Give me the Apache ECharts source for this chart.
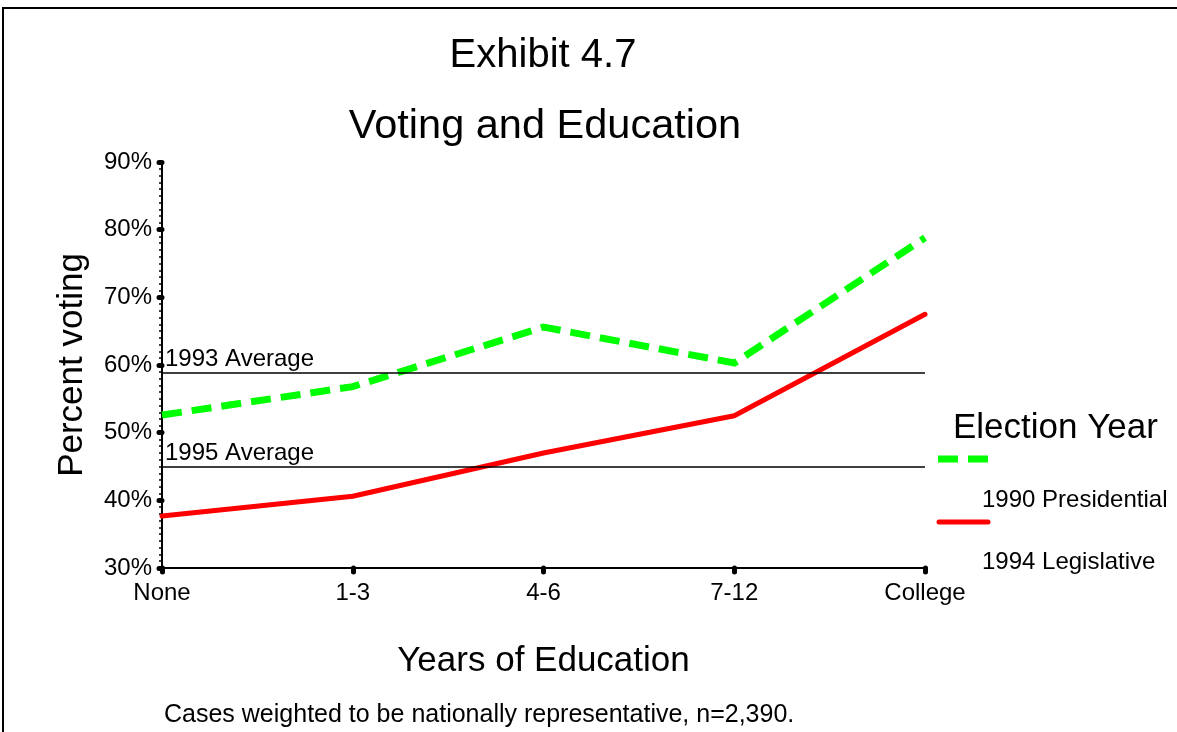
<!DOCTYPE html>
<html>
<head>
<meta charset="utf-8">
<title>Voting and Education</title>
<script src="https://cdn.jsdelivr.net/npm/echarts@6/dist/echarts.min.js"></script>
<style>
  html, body { margin: 0; padding: 0; background: #fff; }
  #chart { width: 1177px; height: 732px; }
</style>
</head>
<body>
<div id="chart"></div>
<script>
// Years of schooling groups on the x axis
const categories = ['None', '1-3', '4-6', '7-12', 'College'];

// Percent voting by education group
const presidential1990 = [52.6, 56.8, 65.6, 60.3, 78.8];
const legislative1994 = [37.7, 40.6, 47.0, 52.5, 67.5];

// Overall turnout reference lines
const averageNames = ['1993 Average', '1995 Average'];
const averageValues = [58.9, 45.0];

// Percent axis range
const yMin = 30;
const yMax = 90;
const yStep = 10;

const seriesNames = ['1990 Presidential', '1994 Legislative'];
const seriesColors = ['#00ff00', '#ff0000'];

const FONT = '"Liberation Sans", Arial, sans-serif';

const chart = echarts.init(document.getElementById('chart'), null, { renderer: 'canvas' });

const option = {
  animation: false,
  backgroundColor: '#ffffff',
  title: [
    {
      text: 'Exhibit 4.7',
      left: 538, top: 31, textAlign: 'center',
      textStyle: { fontFamily: FONT, fontSize: 40, fontWeight: 'normal', color: '#000' }
    },
    {
      text: 'Voting and Education',
      left: 540, top: 101, textAlign: 'center',
      textStyle: { fontFamily: FONT, fontSize: 41.5, fontWeight: 'normal', color: '#000' }
    }
  ],
  grid: { left: 162, right: 252, top: 162, bottom: 164, containLabel: false },
  xAxis: {
    type: 'category',
    data: categories,
    boundaryGap: false,
    name: 'Years of Education',
    nameLocation: 'middle',
    nameGap: 76,
    nameTextStyle: { fontFamily: FONT, fontSize: 35, color: '#000' },
    axisLine: { lineStyle: { color: '#000', width: 2 } },
    axisTick: { length: 4, lineStyle: { color: '#000', width: 5, cap: 'round' } },
    axisLabel: { fontFamily: FONT, fontSize: 24, color: '#000', margin: 13 },
    splitLine: { show: false }
  },
  yAxis: {
    type: 'value',
    min: yMin, max: yMax, interval: yStep,
    name: 'Percent voting',
    nameLocation: 'middle',
    nameGap: 72,
    nameTextStyle: { fontFamily: FONT, fontSize: 35, color: '#000' },
    axisLine: { show: true, lineStyle: { color: '#000', width: 2 } },
    axisTick: { show: true, length: 3, lineStyle: { color: '#000', width: 5, cap: 'round' } },
    minorTick: { show: true, splitNumber: 10, length: 3, lineStyle: { color: '#000', width: 1.5 } },
    axisLabel: { fontFamily: FONT, fontSize: 24, color: '#000', margin: 10, formatter: '{value}%' },
    splitLine: { show: false }
  },
  series: [
    {
      name: seriesNames[0],
      type: 'line',
      data: presidential1990,
      symbol: 'none',
      silent: true,
      z: 3,
      lineStyle: { color: seriesColors[0], width: 7, type: [20, 10], cap: 'butt', join: 'miter' }
    },
    {
      name: seriesNames[1],
      type: 'line',
      data: legislative1994,
      symbol: 'none',
      silent: true,
      z: 3,
      lineStyle: { color: seriesColors[1], width: 5, cap: 'round', join: 'round' }
    },
    {
      name: 'averages',
      type: 'line',
      data: [],
      silent: true,
      z: 2,
      markLine: {
        silent: true,
        symbol: ['none', 'none'],
        animation: false,
        lineStyle: { color: '#000', width: 1.5, type: 'solid' },
        label: {
          show: true,
          position: 'insideStartTop',
          formatter: '{b}',
          fontFamily: FONT,
          fontSize: 24,
          color: '#000',
          distance: [3, 1]
        },
        emphasis: { disabled: true },
        data: averageNames.map((n, i) => ({ name: n, yAxis: averageValues[i] }))
      }
    }
  ],
  graphic: [
    // outer frame
    {
      type: 'rect', silent: true,
      shape: { x: 3, y: 8, width: 1400, height: 1000 },
      style: { fill: 'none', stroke: '#000', lineWidth: 2 }
    },
    // legend block
    {
      type: 'text', silent: true, left: 953, top: 428 - 17,
      style: { text: 'Election Year', fontFamily: FONT, fontSize: 35, fill: '#000' }
    },
    {
      type: 'line', silent: true,
      shape: { x1: 938, y1: 459, x2: 990, y2: 459 },
      style: { stroke: seriesColors[0], lineWidth: 7, lineDash: [20, 10] }
    },
    {
      type: 'text', silent: true, left: 982, top: 500 - 12,
      style: { text: seriesNames[0], fontFamily: FONT, fontSize: 24, fill: '#000' }
    },
    {
      type: 'line', silent: true,
      shape: { x1: 939, y1: 522, x2: 988, y2: 522 },
      style: { stroke: seriesColors[1], lineWidth: 5, lineCap: 'round' }
    },
    {
      type: 'text', silent: true, left: 982, top: 562 - 12,
      style: { text: seriesNames[1], fontFamily: FONT, fontSize: 24, fill: '#000' }
    },
    // footnote
    {
      type: 'text', silent: true, left: 164, top: 716 - 13,
      style: { text: 'Cases weighted to be nationally representative, n=2,390.', fontFamily: FONT, fontSize: 25, fill: '#000' }
    }
  ]
};

chart.setOption(option);
</script>
</body>
</html>
